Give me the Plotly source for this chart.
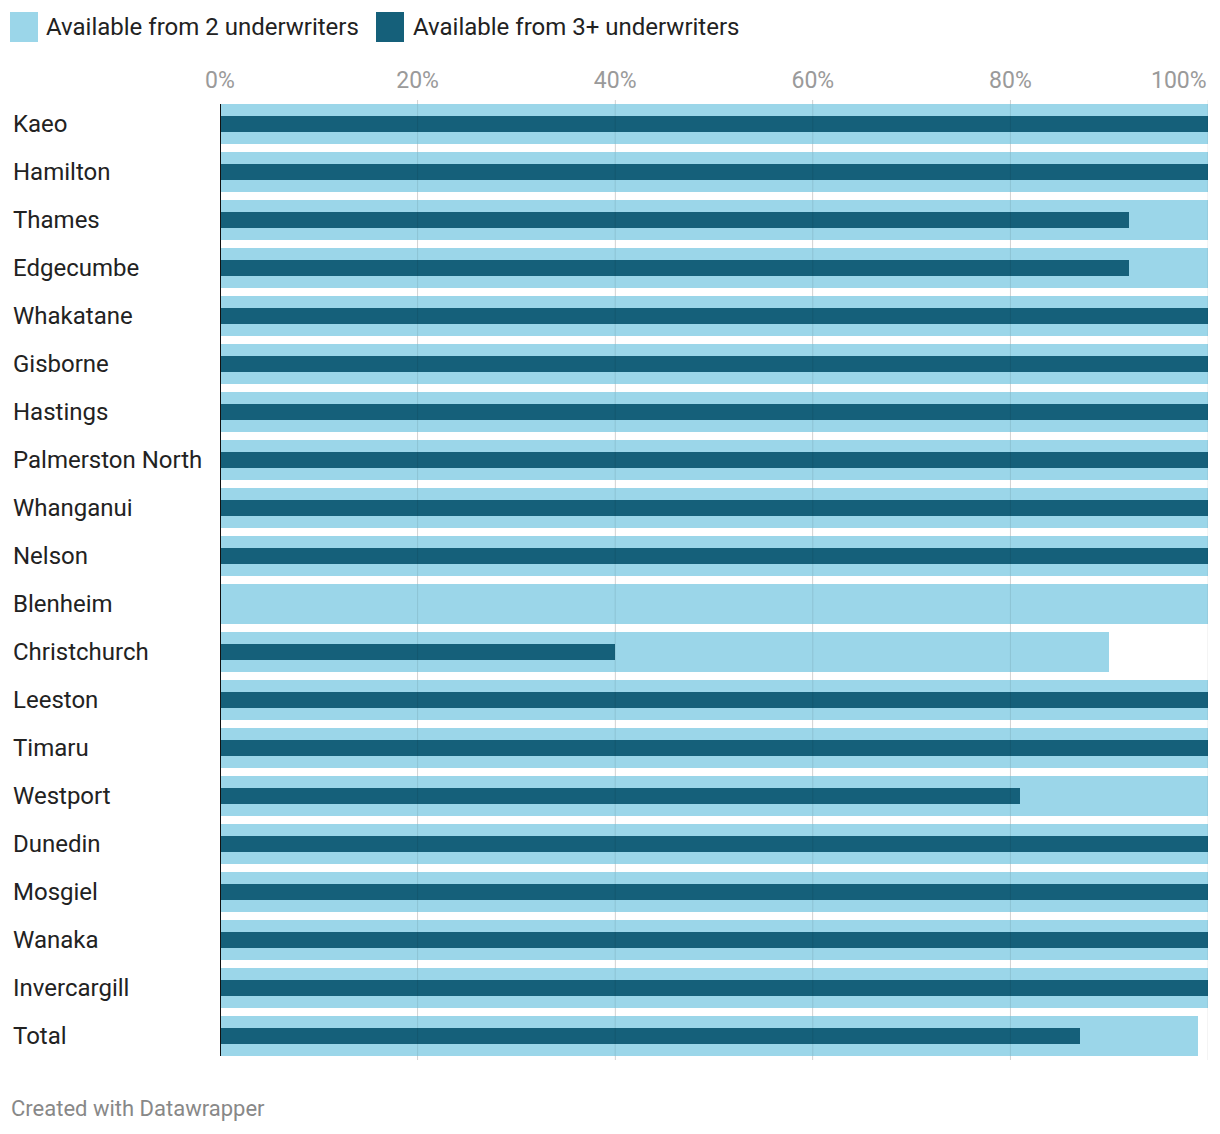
import plotly.graph_objects as go

categories = ["Kaeo", "Hamilton", "Thames", "Edgecumbe", "Whakatane", "Gisborne", "Hastings",
              "Palmerston North", "Whanganui", "Nelson", "Blenheim", "Christchurch", "Leeston",
              "Timaru", "Westport", "Dunedin", "Mosgiel", "Wanaka", "Invercargill", "Total"]
two_underwriters = [100, 100, 100, 100, 100, 100, 100, 100, 100, 100, 100, 90, 100, 100, 100, 100, 100, 100, 100, 99]
three_plus = [100, 100, 92, 92, 100, 100, 100, 100, 100, 100, 0, 40, 100, 100, 81, 100, 100, 100, 100, 87]
tick_values = [0, 20, 40, 60, 80, 100]
tick_labels = ["0%", "20%", "40%", "60%", "80%", ""]
series_names = ["Available from 2 underwriters", "Available from 3+ underwriters"]

LIGHT = "#9bd6e9"
DARK = "#15607a"
FONT = "Roboto"

fig = go.Figure()
fig.add_trace(go.Bar(y=categories, x=two_underwriters, orientation="h", marker_color=LIGHT,
                     width=0.833, name=series_names[0], showlegend=False,
                     marker_line_width=0, hoverinfo="x+y"))
fig.add_trace(go.Bar(y=categories, x=three_plus, orientation="h", marker_color=DARK,
                     width=0.333, name=series_names[1], showlegend=False,
                     marker_line_width=0, hoverinfo="x+y"))

OFF = 8  # page body margin
W, H = 1220 - 2 * OFF, 1134 - 2 * OFF
L = 220 - OFF
T = 100 - OFF
R = W - (1208 - OFF)
B = H - (1060 - OFF)
pw, ph = W - L - R, H - T - B

def px_x(p):
    return (p - OFF - L) / pw

def px_y(p):
    return (H - B - (p - OFF)) / ph

shapes = []
for v in tick_values[1:]:
    shapes.append(dict(type="line", xref="x", yref="paper", x0=v, x1=v, y0=0, y1=1,
                       line=dict(color="rgba(0,0,0,0.09)", width=1), layer="above"))
shapes.append(dict(type="line", xref="x", yref="paper", x0=0, x1=0, y0=px_y(104), y1=px_y(1056),
                   line=dict(color="#111111", width=2), layer="above"))
legend_items = [(10, 38, LIGHT, series_names[0], 44), (376, 404, DARK, series_names[1], 411)]
annotations = []
for x0, x1, col, name, tx in legend_items:
    shapes.append(dict(type="rect", xref="paper", yref="paper", x0=px_x(x0), x1=px_x(x1),
                       y0=px_y(42), y1=px_y(12), fillcolor=col, line_width=0, layer="above"))
    annotations.append(dict(text=name, xref="paper", yref="paper", x=px_x(tx), y=px_y(27),
                            xanchor="left", yanchor="middle", showarrow=False,
                            font=dict(family=FONT, size=24, color="#222222")))

for c in categories:
    annotations.append(dict(text=c, xref="paper", yref="y", x=px_x(11), y=c, xanchor="left",
                            yanchor="middle", showarrow=False,
                            font=dict(family=FONT, size=24, color="#222222")))
annotations.append(dict(text="100%", xref="x", yref="paper", x=100, y=px_y(80), xanchor="right",
                        yanchor="middle", showarrow=False, xshift=1,
                        font=dict(family=FONT, size=23, color="#9a9a9a")))
annotations.append(dict(text="Created with Datawrapper", xref="paper", yref="paper", x=px_x(9),
                        y=px_y(1108), xanchor="left", yanchor="middle", showarrow=False,
                        font=dict(family=FONT, size=22, color="#888888")))

fig.update_layout(
    width=W, height=H,
    margin=dict(l=L, r=R, t=T, b=B, autoexpand=False),
    paper_bgcolor="white", plot_bgcolor="white",
    barmode="overlay", bargap=0,
    showlegend=False,
    font=dict(family=FONT, color="#222222"),
    shapes=shapes, annotations=annotations,
    xaxis=dict(range=[0, 100], side="top", tickvals=tick_values, ticktext=tick_labels,
               showgrid=True, gridcolor="#e6e6e6", gridwidth=1, zeroline=False,
               ticks="outside", ticklen=2, tickcolor="rgba(0,0,0,0)",
               tickfont=dict(family=FONT, size=23, color="#9a9a9a"), fixedrange=True),
    yaxis=dict(categoryorder="array", categoryarray=categories, autorange="reversed",
               showticklabels=False, showgrid=False, zeroline=False, fixedrange=True),
)

fig.write_html("out.html")
